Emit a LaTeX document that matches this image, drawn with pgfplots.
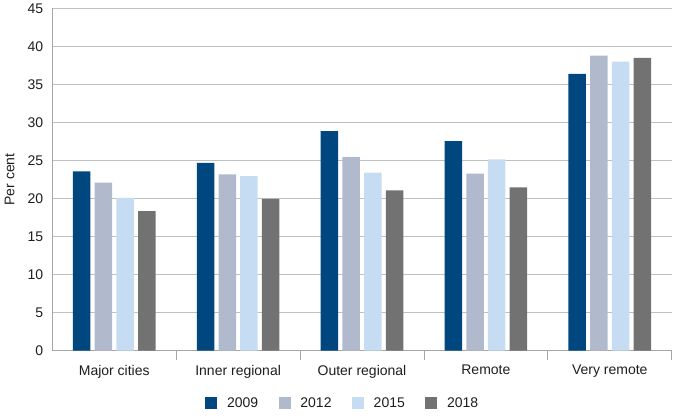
\documentclass[border=0pt]{standalone}
\usepackage{pgfplots}
\pgfplotsset{compat=1.18}
\usepackage{fontspec}
\setmainfont{Liberation Sans}
\definecolor{c09}{RGB}{0,70,127}
\definecolor{c12}{RGB}{176,186,204}
\definecolor{c15}{RGB}{198,220,243}
\definecolor{c18}{RGB}{115,114,114}
\definecolor{gridc}{RGB}{192,192,192}
\definecolor{axc}{RGB}{166,166,166}
\definecolor{txt}{RGB}{30,30,30}
\begin{document}
\begin{tikzpicture}[x=1pt,y=1pt]
\begin{axis}[
  at={(52.3pt,67.3pt)}, anchor=south west,
  scale only axis, width=619.4pt, height=342.4pt,
  ymin=0, ymax=45, ytick={0,5,...,45},
  xmin=-0.5, xmax=4.5,
  xtick={0,1,2,3,4},
  xticklabels={Major cities,Inner regional,Outer regional,Remote,Very remote},
  minor xtick={0.5,1.5,2.5,3.5,4.5},
  major tick length=0pt, minor tick length=9pt,
  tick align=inside,
  axis x line*=bottom, axis y line*=left,
  axis line style={draw=axc, line width=0.8pt},
  every minor tick/.append style={draw=axc, line width=0.8pt},
  ymajorgrids, grid style={draw=gridc, line width=0.8pt},
  /pgf/number format/assume math mode=true,
  tick label style={font=\fontsize{14}{16}\selectfont, text=txt},
  xticklabel style={yshift=-11pt},
  yticklabel style={xshift=-5.6pt},
  ylabel={Per cent},
  ylabel style={at={(axis description cs:-0.0688,0.5)}, anchor=center, font=\fontsize{14}{16}\selectfont, text=txt},
  ybar=4.2pt, bar width=17.5pt,
  legend columns=4,
  legend style={at={(0.469,-0.153)}, anchor=center, draw=none, fill=none,
    font=\fontsize{14}{16}\selectfont, text=txt,
    /tikz/every odd column/.append style={column sep=7.7pt},
    /tikz/every even column/.append style={column sep=18.5pt}},
  legend image code/.code={\fill[#1] (0pt,-6pt) rectangle (12pt,6pt);},
]
\addplot[fill=c09, draw=none] coordinates {(0,23.58) (1,24.67) (2,28.87) (3,27.56) (4,36.37)};
\addplot[fill=c12, draw=none] coordinates {(0,22.08) (1,23.18) (2,25.45) (3,23.27) (4,38.78)};
\addplot[fill=c15, draw=none] coordinates {(0,20.07) (1,22.96) (2,23.40) (3,25.15) (4,37.99)};
\addplot[fill=c18, draw=none] coordinates {(0,18.36) (1,19.94) (2,21.08) (3,21.47) (4,38.47)};
\legend{2009,2012,2015,2018}
\end{axis}
\pgfresetboundingbox
\path[use as bounding box] (0,0) rectangle (675,418);
\end{tikzpicture}
\end{document}
